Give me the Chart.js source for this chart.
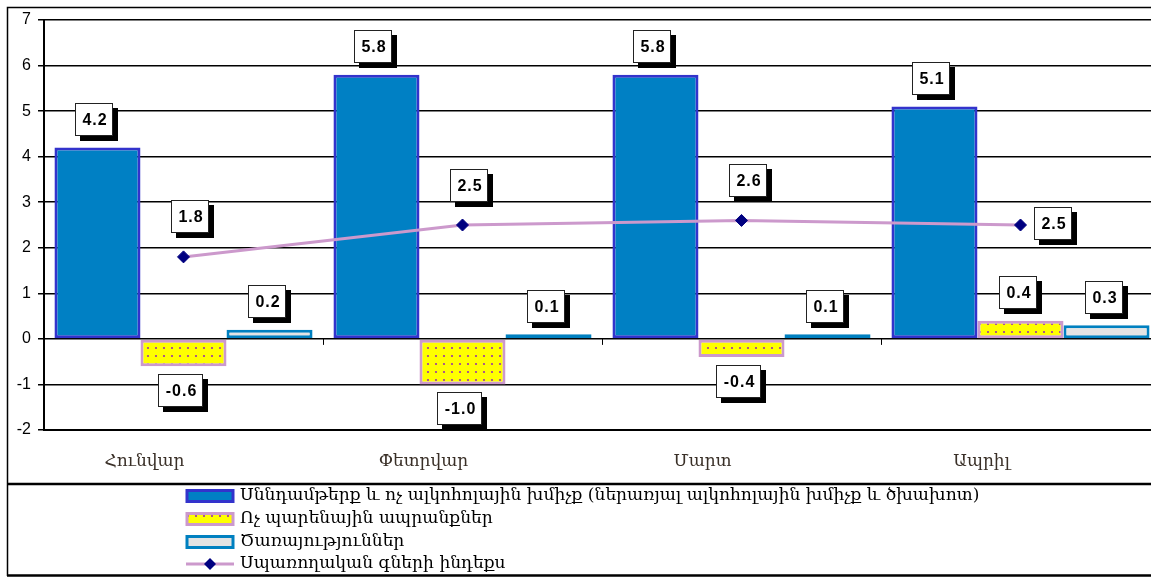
<!DOCTYPE html>
<html>
<head>
<meta charset="utf-8">
<script src="https://cdn.jsdelivr.net/npm/chart.js@4.4.0/dist/chart.umd.min.js"></script>
<style>
  html, body { margin: 0; padding: 0; background: #fff; overflow: hidden; }
  #wrap { width: 1151px; height: 578px; overflow: hidden; position: relative; }
  canvas { display: block; }
</style>
</head>
<body>
<div id="wrap"><canvas id="chart" width="1167" height="578"></canvas></div>
<script>
// Data
const months = ['Հունվար', 'Փետրվար', 'Մարտ', 'Ապրիլ'];
const foodValues = [4.2, 5.8, 5.8, 5.1];
const nonFoodValues = [-0.6, -1.0, -0.4, 0.4];
const servicesValues = [0.2, 0.1, 0.1, 0.3];
const cpiValues = [1.8, 2.5, 2.6, 2.5];
const seriesNames = [
  'Սննդամթերք և ոչ ալկոհոլային խմիչք (ներառյալ ալկոհոլային խմիչք և ծխախոտ)',
  'Ոչ պարենային ապրանքներ',
  'Ծառայություններ',
  'Սպառողական գների ինդեքս'
];
const yTicks = [-2, -1, 0, 1, 2, 3, 4, 5, 6, 7];

const SERIF = '"DejaVu Serif", "DejaVu Sans", serif';
const ARIAL = '"Liberation Sans", Arial, sans-serif';

// yellow fill with purple dots
function dotPattern() {
  const c = document.createElement('canvas');
  c.width = 8; c.height = 8;
  const g = c.getContext('2d');
  g.fillStyle = '#FFFF00';
  g.fillRect(0, 0, 8, 8);
  g.fillStyle = '#9933AA';
  g.beginPath();
  g.arc(4, 4, 1.1, 0, Math.PI * 2);
  g.fill();
  return g.createPattern(c, 'repeat');
}
const dots = dotPattern();

function drawBox(ctx, text, cx, cy) {
  ctx.save();
  ctx.font = 'bold 16px ' + ARIAL;
  ctx.letterSpacing = '1px';
  const w = Math.round(ctx.measureText(text).width) + 13;
  const h = 33;
  const x = Math.round(cx - w / 2), y = Math.round(cy - h / 2);
  ctx.fillStyle = '#000';
  ctx.fillRect(x + 5, y + 5, w, h);
  ctx.fillStyle = '#fff';
  ctx.fillRect(x, y, w, h);
  ctx.strokeStyle = '#222';
  ctx.lineWidth = 1;
  ctx.strokeRect(x + 0.5, y + 0.5, w - 1, h - 1);
  ctx.fillStyle = '#000';
  ctx.textAlign = 'center';
  ctx.textBaseline = 'middle';
  ctx.fillText(text, x + w / 2 + 1, y + h / 2 + 1);
  ctx.restore();
}

const valueBoxes = {
  id: 'valueBoxes',
  afterDatasetsDraw(chart) {
    const ctx = chart.ctx;
    chart.data.datasets.forEach((ds, di) => {
      const meta = chart.getDatasetMeta(di);
      meta.data.forEach((el, i) => {
        const v = ds.data[i];
        let cx, cy;
        if (meta.type === 'line') {
          if (ds.labelSide && ds.labelSide[i] === 'right') {
            cx = el.x + 32; cy = el.y - 2;
          } else {
            cx = el.x + 6; cy = el.y - 40;
          }
        } else {
          cx = el.x - 3;
          cy = v >= 0 ? el.y - 28 : el.y + 24;
        }
        drawBox(ctx, v.toFixed(1), cx, cy);
      });
    });
  }
};

const frame = {
  id: 'frame',
  beforeDraw(chart) {
    const ctx = chart.ctx;
    ctx.save();
    ctx.fillStyle = '#fff';
    ctx.fillRect(0, 0, chart.width, chart.height);
    ctx.restore();
  },
  afterDraw(chart) {
    const ctx = chart.ctx;
    const { x, y } = chart.scales;
    ctx.save();
    ctx.strokeStyle = '#000';
    // outer frame
    ctx.lineWidth = 1.5;
    ctx.beginPath();
    ctx.moveTo(7.5, 576); ctx.lineTo(7.5, 7.5); ctx.lineTo(chart.width, 7.5);
    ctx.stroke();
    ctx.lineWidth = 2.5;
    ctx.beginPath();
    ctx.moveTo(7, 484); ctx.lineTo(chart.width, 484);
    ctx.moveTo(7, 575.5); ctx.lineTo(chart.width, 575.5);
    ctx.stroke();

    // small ticks on the zero line between categories
    const zy = y.getPixelForValue(0);
    ctx.lineWidth = 1;
    ctx.beginPath();
    for (let i = 1; i < months.length; i++) {
      const bx = Math.round((x.getPixelForValue(i - 1) + x.getPixelForValue(i)) / 2) + 0.5;
      ctx.moveTo(bx, zy); ctx.lineTo(bx, zy + 6);
    }
    ctx.stroke();

    // legend
    const rows = [496, 519, 542, 564];
    const sx = 187, sw = 46, sh = 11;
    ctx.font = '16px ' + SERIF;
    const fit = 16 * 740 / ctx.measureText(seriesNames[0]).width;
    const legendFont = Math.max(13, Math.min(19, fit)).toFixed(1) + 'px ' + SERIF;
    chart.data.datasets.forEach((ds, i) => {
      const ry = rows[i];
      if (ds.type === 'line') {
        ctx.strokeStyle = ds.borderColor;
        ctx.lineWidth = 3;
        ctx.beginPath();
        ctx.moveTo(sx - 1, ry); ctx.lineTo(sx + sw + 1, ry);
        ctx.stroke();
        ctx.fillStyle = ds.pointBackgroundColor;
        ctx.beginPath();
        const cx = sx + sw / 2;
        ctx.moveTo(cx - 6, ry); ctx.lineTo(cx, ry - 6); ctx.lineTo(cx + 6, ry); ctx.lineTo(cx, ry + 6);
        ctx.closePath();
        ctx.fill();
      } else {
        ctx.fillStyle = ds.backgroundColor;
        ctx.fillRect(sx, ry - sh / 2, sw, sh);
        ctx.strokeStyle = ds.borderColor;
        ctx.lineWidth = 3;
        ctx.strokeRect(sx, ry - sh / 2, sw, sh);
      }
      ctx.fillStyle = '#000';
      ctx.textBaseline = 'middle';
      ctx.textAlign = 'left';
      ctx.font = legendFont;
      ctx.fillText(seriesNames[i], 240, ry);
    });
    ctx.restore();
  }
};

new Chart(document.getElementById('chart'), {
  type: 'bar',
  data: {
    labels: months,
    datasets: [
      {
        label: seriesNames[0],
        data: foodValues,
        backgroundColor: '#0080C4',
        borderColor: '#3333CC',
        borderWidth: 3,
        borderSkipped: false
      },
      {
        label: seriesNames[1],
        data: nonFoodValues,
        backgroundColor: dots,
        borderColor: '#CC99CC',
        borderWidth: 3,
        borderSkipped: false
      },
      {
        label: seriesNames[2],
        data: servicesValues,
        backgroundColor: '#E3E3E3',
        borderColor: '#0080C0',
        borderWidth: 3,
        borderSkipped: false
      },
      {
        type: 'line',
        label: seriesNames[3],
        data: cpiValues,
        order: -1,
        borderColor: '#CC99CC',
        borderWidth: 3,
        tension: 0,
        pointStyle: 'rectRot',
        pointRadius: 6,
        pointBackgroundColor: '#000080',
        pointBorderColor: '#000080',
        pointBorderWidth: 1,
        labelSide: ['top', 'top', 'top', 'right']
      }
    ]
  },
  options: {
    responsive: false,
    animation: false,
    devicePixelRatio: 1,
    barPercentage: 1,
    categoryPercentage: 0.925,
    layout: { padding: { left: 0, top: 20, right: 2, bottom: 94 } },
    plugins: {
      legend: { display: false },
      tooltip: { enabled: false }
    },
    scales: {
      x: {
        grid: { display: false, drawTicks: false },
        border: { display: true, color: '#000', width: 2 },
        ticks: {
          color: '#3a3028',
          font: { family: SERIF, size: 17 },
          padding: 21,
          labelOffset: -39,
          maxRotation: 0
        },
        afterFit(scale) { scale.height = 54; }
      },
      y: {
        min: -2,
        max: 7,
        afterBuildTicks(scale) { scale.ticks = yTicks.map(v => ({ value: v })); },
        grid: { color: '#000', lineWidth: 1.5, tickLength: 6, drawTicks: true },
        border: { display: true, color: '#000', width: 2 },
        ticks: {
          color: '#000',
          font: { family: ARIAL, size: 16 },
          padding: 7
        },
        afterFit(scale) { scale.width = 44; }
      }
    }
  },
  plugins: [frame, valueBoxes]
});
</script>
</body>
</html>
